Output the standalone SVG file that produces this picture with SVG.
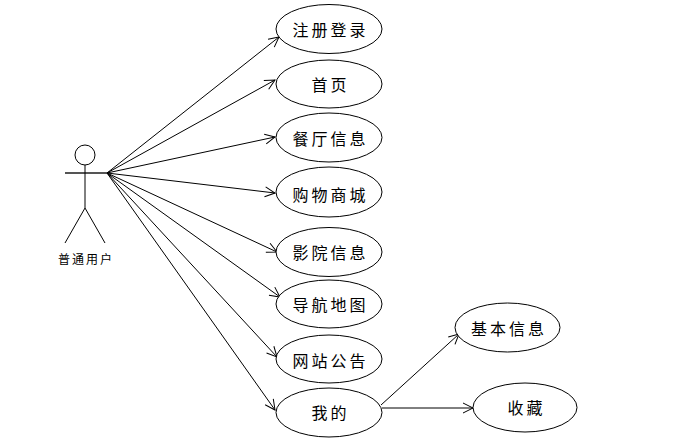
<svg xmlns="http://www.w3.org/2000/svg" width="683" height="445" viewBox="0 0 683 445">
<defs>
<marker id="arr" viewBox="0 0 12 12" refX="11" refY="6" markerWidth="12" markerHeight="12" markerUnits="userSpaceOnUse" orient="auto">
<path d="M1,1 L11,6 L1,11" fill="none" stroke="#000" stroke-width="1"/>
</marker>
<style>
.uc ellipse{fill:#fff;stroke:#000;stroke-width:1}
.uc text{font-family:"Noto Sans CJK SC","Noto Sans",sans-serif;font-size:16px;letter-spacing:3px;text-anchor:middle;dominant-baseline:central;fill:#000}
.ln{stroke:#000;stroke-width:1;fill:none;marker-end:url(#arr)}
</style>
</defs>
<rect width="683" height="445" fill="#fff"/>
<g id="actor" fill="none" stroke="#000" stroke-width="1">
<circle cx="85" cy="155" r="10"/>
<line x1="65" y1="173" x2="107" y2="173" stroke="#555" stroke-width="2"/>
<line x1="85" y1="165" x2="85" y2="208"/>
<line x1="85" y1="208" x2="65" y2="243"/>
<line x1="85" y1="208" x2="105" y2="243"/>
<text x="86" y="258" font-family="'Noto Sans CJK SC',sans-serif" font-size="12" letter-spacing="2" text-anchor="middle" dominant-baseline="central" fill="#000" stroke="none">普通用户</text>
</g>
<g id="connectors">
<line class="ln" x1="107" y1="173" x2="279" y2="37"/>
<line class="ln" x1="107" y1="173" x2="275" y2="80"/>
<line class="ln" x1="107" y1="173" x2="275" y2="137"/>
<line class="ln" x1="107" y1="173" x2="275" y2="193"/>
<line class="ln" x1="107" y1="173" x2="277" y2="252"/>
<line class="ln" x1="107" y1="173" x2="280" y2="297"/>
<line class="ln" x1="107" y1="173" x2="277" y2="357"/>
<line class="ln" x1="107" y1="173" x2="275" y2="410"/>
<line class="ln" x1="381" y1="405" x2="459" y2="334"/>
<line class="ln" x1="382" y1="408" x2="473" y2="408"/>
</g>
<g id="n1" class="uc"><ellipse cx="329" cy="29" rx="53" ry="24.5"/><text x="330.5" y="29">注册登录</text></g>
<g id="n2" class="uc"><ellipse cx="329" cy="84" rx="53" ry="24"/><text x="330.5" y="84">首页</text></g>
<g id="n3" class="uc"><ellipse cx="329" cy="137.5" rx="53" ry="24.5"/><text x="330.5" y="137.5">餐厅信息</text></g>
<g id="n4" class="uc"><ellipse cx="329" cy="192" rx="53" ry="25"/><text x="330.5" y="194">购物商城</text></g>
<g id="n5" class="uc"><ellipse cx="329" cy="252" rx="53" ry="24.5"/><text x="330.5" y="252">影院信息</text></g>
<g id="n6" class="uc"><ellipse cx="329" cy="304" rx="53" ry="24"/><text x="330.5" y="304">导航地图</text></g>
<g id="n7" class="uc"><ellipse cx="329" cy="359" rx="53" ry="24"/><text x="330.5" y="360">网站公告</text></g>
<g id="n8" class="uc"><ellipse cx="329" cy="412.5" rx="53" ry="24.5"/><text x="330.5" y="412">我的</text></g>
<g id="n9" class="uc"><ellipse cx="507.5" cy="327.5" rx="52.5" ry="24.5"/><text x="509" y="327.5">基本信息</text></g>
<g id="n10" class="uc"><ellipse cx="525" cy="407.5" rx="52" ry="24.5"/><text x="526.5" y="407">收藏</text></g>
</svg>
